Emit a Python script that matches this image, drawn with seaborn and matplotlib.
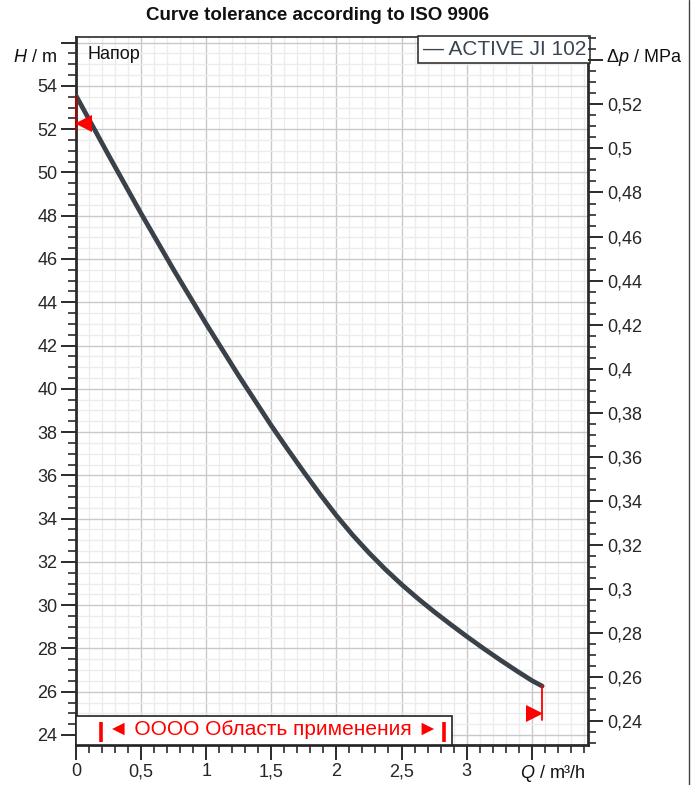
import numpy as np
import pandas as pd
import matplotlib
matplotlib.use("Agg")
import matplotlib.pyplot as plt
from matplotlib.patches import Rectangle
from matplotlib.ticker import MultipleLocator, FixedLocator, FixedFormatter
import seaborn as sns

# ---------------- data ----------------
flow_q = [0.0, 0.25, 0.5, 0.75, 1.0, 1.25, 1.5, 1.625, 1.75, 1.875, 2.0, 2.125, 2.25, 2.375,
          2.5, 2.625, 2.75, 2.875, 3.0, 3.125, 3.25, 3.375, 3.5, 3.58]
head_h = [53.55, 50.8, 48.1, 45.5, 43.0, 40.6, 38.3, 37.21, 36.15, 35.12, 34.14, 33.24,
          32.42, 31.66, 30.96, 30.31, 29.70, 29.12, 28.56, 28.02, 27.50, 27.0, 26.52, 26.26]
series_name = "ACTIVE JI 102"

tol_left_q = [0.055]
tol_left_h = [52.3]
tol_right_q = [3.52]
tol_right_h = [25.03]
tol_left_line_h = [53.55, 51.97]
tol_right_line_h = [26.26, 24.70]

x_ticks = [0, 0.5, 1, 1.5, 2, 2.5, 3, 3.5]
x_tick_labels = ["0", "0,5", "1", "1,5", "2", "2,5", "3", ""]
y_ticks = [24, 26, 28, 30, 32, 34, 36, 38, 40, 42, 44, 46, 48, 50, 52, 54, 56]
y_tick_labels = ["24", "26", "28", "30", "32", "34", "36", "38", "40", "42", "44",
                 "46", "48", "50", "52", "54", ""]
p_ticks = [0.24, 0.26, 0.28, 0.30, 0.32, 0.34, 0.36, 0.38, 0.40, 0.42, 0.44, 0.46,
           0.48, 0.50, 0.52, 0.54]
p_tick_labels = ["0,24", "0,26", "0,28", "0,3", "0,32", "0,34", "0,36", "0,38", "0,4",
                 "0,42", "0,44", "0,46", "0,48", "0,5", "0,52", ""]

title = "Curve tolerance according to ISO 9906"
range_text = "◄ OOOO Область применения ►"
head_label = "Напор"

# ---------------- style ----------------
sns.set_style("white")
plt.rcParams["font.family"] = ["Liberation Sans", "DejaVu Sans"]
plt.rcParams["mathtext.fontset"] = "custom"
plt.rcParams["mathtext.it"] = "Liberation Sans:italic"
plt.rcParams["mathtext.rm"] = "Liberation Sans"

W, H = 695, 785
fig = plt.figure(figsize=(W / 100, H / 100), dpi=100)
ax = fig.add_axes([76 / W, 1 - 744.5 / H, (587.7 - 76) / W, (744.5 - 37) / H])

XMIN, XMAX = 0, 3.93
YMIN, YMAX = 23.56, 56.26
ax.set_xlim(XMIN, XMAX)
ax.set_ylim(YMIN, YMAX)

# grid
ax.xaxis.set_minor_locator(MultipleLocator(0.1))
ax.yaxis.set_minor_locator(MultipleLocator(0.5))
ax.xaxis.set_major_locator(FixedLocator(x_ticks))
ax.xaxis.set_major_formatter(FixedFormatter(x_tick_labels))
ax.yaxis.set_major_locator(FixedLocator(y_ticks))
ax.yaxis.set_major_formatter(FixedFormatter(y_tick_labels))
ax.grid(which="minor", color="#ececec", lw=1.0, zorder=0)
ax.grid(which="major", color="#c9c9c9", lw=1.0, zorder=0)
ax.set_axisbelow(True)

df = pd.DataFrame({"Q": flow_q, "H": head_h})
sns.lineplot(data=df, x="Q", y="H", ax=ax, color="#3a4149", lw=3.4,
             solid_capstyle="round", solid_joinstyle="round", sort=False, zorder=5,
             legend=False)

# tolerance marks
ax.plot([0, 0], tol_left_line_h, color="#b00000", lw=1.5, zorder=6, clip_on=False)
ax.plot([flow_q[-1], flow_q[-1]], tol_right_line_h, color="#ff0000", lw=1.3, zorder=6)
ax.scatter(tol_left_q, tol_left_h, marker="<", s=150, color="#ff0000", zorder=7, linewidths=0)
ax.scatter(tol_right_q, tol_right_h, marker=">", s=150, color="#ff0000", zorder=7, linewidths=0)

# spines & ticks
for s in ["left", "bottom", "right"]:
    ax.spines[s].set_color("#2b2b2b")
    ax.spines[s].set_linewidth(2.0)
ax.spines["top"].set_color("#2b2b2b")
ax.spines["top"].set_linewidth(1.2)
ax.tick_params(which="major", direction="out", length=10.5, width=1.4, color="#2b2b2b",
               labelsize=13, pad=3, left=True, bottom=True)
ax.tick_params(which="minor", direction="out", length=5.5, width=1.2, color="#2b2b2b",
               left=True, bottom=True)
ax.set_xlabel("")
ax.set_ylabel("")

# right axis (pressure)
FACT, OFF = 0.00982, -0.0019
ax2 = ax.twinx()
ax2.set_ylim(YMIN * FACT + OFF, YMAX * FACT + OFF)
ax2.yaxis.set_major_locator(FixedLocator(p_ticks))
ax2.yaxis.set_major_formatter(FixedFormatter(p_tick_labels))
ax2.yaxis.set_minor_locator(MultipleLocator(0.005))
ax2.tick_params(which="major", direction="out", length=11, width=1.4, color="#2b2b2b",
                labelsize=13, pad=3, right=True)
ax2.tick_params(which="minor", direction="out", length=6, width=1.2, color="#2b2b2b", right=True)
for s in ax2.spines.values():
    s.set_visible(False)

# application range box
rect = Rectangle((0, YMIN), 2.886, 24.89 - YMIN, facecolor="white", edgecolor="#222222",
                 lw=1.2, zorder=8, clip_on=False)
ax.add_patch(rect)
ax.text(1.51, 24.24, range_text, color="#ff0000", fontsize=15, ha="center", va="center",
        zorder=9, family=["Liberation Sans", "DejaVu Sans"])
for bx in (0.19, 2.83):
    ax.plot([bx, bx], [23.67, 24.6], color="#ff0000", lw=2.6, zorder=9,
            solid_capstyle="butt")

# legend-like box
ax.text(0.9965, 0.9955, "— " + series_name, transform=ax.transAxes, ha="right", va="top",
        fontsize=15, color="#3a4550", zorder=10,
        bbox=dict(boxstyle="square,pad=0.2", fc="white", ec="#333333", lw=1.2))

ax.text(0.023, 0.987, head_label, transform=ax.transAxes, ha="left", va="top",
        fontsize=13, color="#111111", zorder=10)

# axis labels and title
fig.text(318 / W, 1 - 16 / H, title, ha="center", va="center", fontsize=13.5,
         fontweight="bold", color="#111111")
fig.text(57 / W, 1 - 58 / H, "$H$ / m", ha="right", va="center", fontsize=13, color="#111111")
fig.text(606 / W, 1 - 58 / H, "Δ$p$ / MPa", ha="left", va="center", fontsize=13, color="#111111")
fig.text(553 / W, 1 - 773 / H, "$Q$ / m³/h", ha="center", va="center", fontsize=13,
         color="#111111")

# figure frame line on the right
fig.add_artist(plt.Line2D([688.5 / W, 688.5 / W], [0, 1], transform=fig.transFigure,
                          color="#444444", lw=1.0))

fig.savefig("out.png", dpi=100)
